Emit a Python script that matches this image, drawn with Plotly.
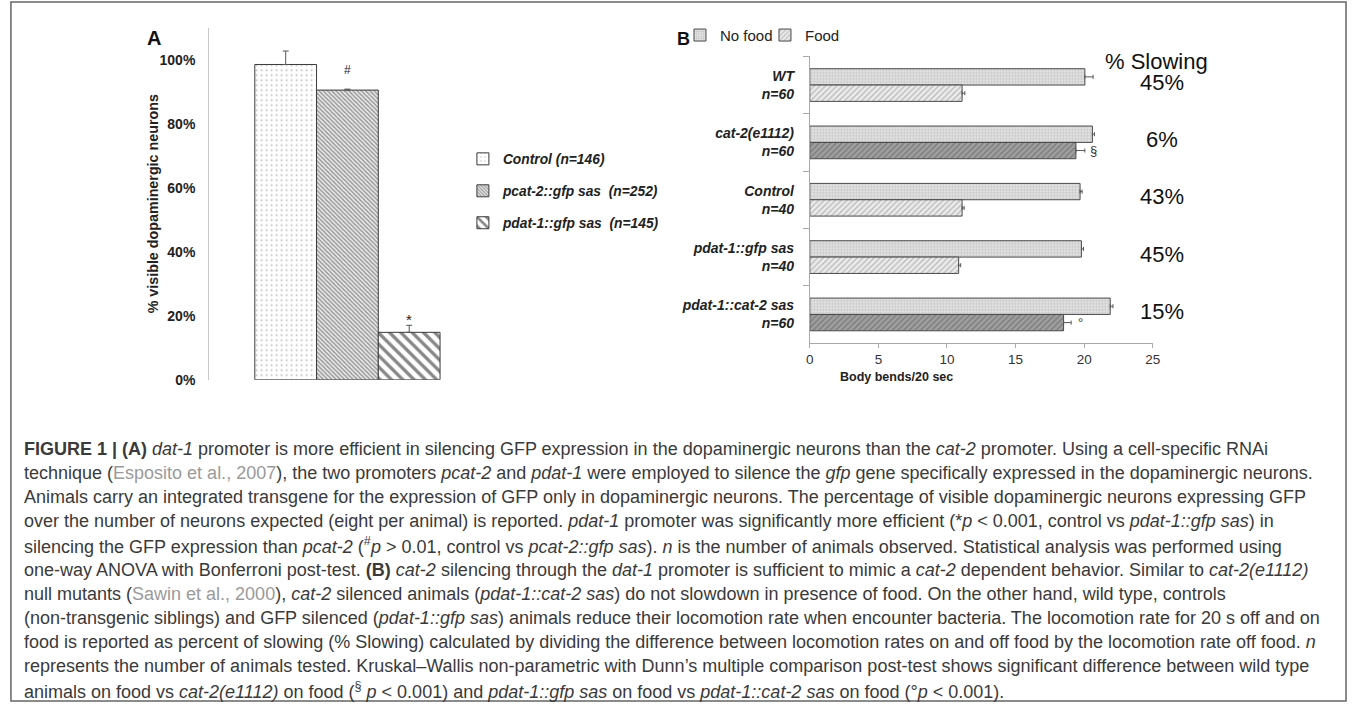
import plotly.graph_objects as go

W, H = 1357, 714


def px(x):
    return x / W


def py(y):
    return 1 - y / H


FONT = "Liberation Sans"

# ---------------- Panel A data ----------------
a_groups = ["Control (n=146)", "pcat-2::gfp sas  (n=252)", "pdat-1::gfp sas  (n=145)"]
a_values = [0.985, 0.905, 0.148]
a_errors = [0.042, 0.003, 0.022]
a_marks = ["", "#", "*"]
a_ticks = [0, 0.2, 0.4, 0.6, 0.8, 1.0]
a_title = "% visible dopaminergic neurons"

# ---------------- Panel B data ----------------
b_strains = ["WT<br>n=60", "cat-2(e1112)<br>n=60", "Control<br>n=40",
             "pdat-1::gfp sas<br>n=40", "pdat-1::cat-2 sas<br>n=60"]
b_series = ["No food", "Food"]
b_nofood = [20.05, 20.6, 19.7, 19.8, 21.9]
b_nofood_err = [0.6, 0.15, 0.15, 0.15, 0.2]
b_food = [11.1, 19.4, 11.1, 10.85, 18.5]
b_food_err = [0.2, 0.65, 0.15, 0.15, 0.55]
b_food_sig = ["", "§", "", "", "°"]
b_slowing = ["45%", "6%", "43%", "45%", "15%"]
b_xticks = [0, 5, 10, 15, 20, 25]
b_xtitle = "Body bends/20 sec"
b_slow_title = "% Slowing"

CITE = '<span style="color:#9a9a9a">{}</span>'
caption_lines = [
    "<b>FIGURE 1 | (A)</b> <i>dat-1</i> promoter is more efficient in silencing GFP expression in the dopaminergic neurons than the <i>cat-2</i> promoter. Using a cell-specific RNAi",
    "technique (" + CITE.format("Esposito et al., 2007") + "), the two promoters <i>pcat-2</i> and <i>pdat-1</i> were employed to silence the <i>gfp</i> gene specifically expressed in the dopaminergic neurons.",
    "Animals carry an integrated transgene for the expression of GFP only in dopaminergic neurons. The percentage of visible dopaminergic neurons expressing GFP",
    "over the number of neurons expected (eight per animal) is reported. <i>pdat-1</i> promoter was significantly more efficient (*<i>p</i> &lt; 0.001, control vs <i>pdat-1::gfp sas</i>) in",
    "silencing the GFP expression than <i>pcat-2</i> (<sup>#</sup><i>p</i> &gt; 0.01, control vs <i>pcat-2::gfp sas</i>). <i>n</i> is the number of animals observed. Statistical analysis was performed using",
    "one-way ANOVA with Bonferroni post-test. <b>(B)</b> <i>cat-2</i> silencing through the <i>dat-1</i> promoter is sufficient to mimic a <i>cat-2</i> dependent behavior. Similar to <i>cat-2(e1112)</i>",
    "null mutants (" + CITE.format("Sawin et al., 2000") + "), <i>cat-2</i> silenced animals (<i>pdat-1::cat-2 sas</i>) do not slowdown in presence of food. On the other hand, wild type, controls",
    "(non-transgenic siblings) and GFP silenced (<i>pdat-1::gfp sas</i>) animals reduce their locomotion rate when encounter bacteria. The locomotion rate for 20 s off and on",
    "food is reported as percent of slowing (% Slowing) calculated by dividing the difference between locomotion rates on and off food by the locomotion rate off food. <i>n</i>",
    "represents the number of animals tested. Kruskal\u2013Wallis non-parametric with Dunn\u2019s multiple comparison post-test shows significant difference between wild type",
    "animals on food vs <i>cat-2(e1112)</i> on food (<sup>§</sup> <i>p</i> &lt; 0.001) and <i>pdat-1::gfp sas</i> on food vs <i>pdat-1::cat-2 sas</i> on food (°<i>p</i> &lt; 0.001).",
]

fig = go.Figure()

# ---------------- Panel A bars ----------------
a_patterns = [
    dict(shape=".", fgcolor="#7a7a7a", bgcolor="white", size=5, solidity=0.12),
    dict(shape="\\", fgcolor="#444444", bgcolor="#eeeeee", size=3, solidity=0.5),
    dict(shape="\\", fgcolor="#111111", bgcolor="white", size=8, solidity=0.42),
]
a_mark_shift = [0, 19, 6]
bw = 62.3 / 279.0
a_offsets = [-1.5 * bw, -0.5 * bw, 0.5 * bw]
for i, g in enumerate(a_groups):
    fig.add_trace(go.Bar(
        x=[0], y=[a_values[i]], width=[bw], offset=[a_offsets[i]],
        name=g, xaxis="x", yaxis="y", legend="legend", legendgroup=f"a{i}",
        marker=dict(color="white", line=dict(color="#3c3c3c", width=1),
                    pattern=a_patterns[i]),
        error_y=dict(type="data", array=[a_errors[i]], arrayminus=[0],
                     symmetric=False, color="#555", thickness=1, width=3),
        hoverinfo="skip",
    ))

# ---------------- Panel B bars ----------------
food_fg = ["#555555" if s else "#8a8a8a" for s in b_food_sig]
food_bg = ["#a0a0a0" if s else "#ececec" for s in b_food_sig]
fig.add_trace(go.Bar(
    y=b_strains, x=b_nofood, orientation="h", name=b_series[0],
    xaxis="x2", yaxis="y2", legend="legend2",
    marker=dict(color="#d8d8d8", line=dict(color="#4a4a4a", width=1),
                pattern=dict(shape="+", fgcolor="#9a9a9a", bgcolor="#e2e2e2",
                             size=3, solidity=0.3)),
    error_x=dict(type="data", array=b_nofood_err, arrayminus=[0] * 5,
                 symmetric=False, color="#555", thickness=1, width=2),
    hoverinfo="skip",
))
fig.add_trace(go.Bar(
    y=b_strains, x=b_food, orientation="h", name=b_series[1],
    xaxis="x2", yaxis="y2", legend="legend2",
    marker=dict(color="#cfcfcf", line=dict(color="#4a4a4a", width=1),
                pattern=dict(shape="/", fgcolor=food_fg, bgcolor=food_bg,
                             size=4, solidity=0.35)),
    error_x=dict(type="data", array=b_food_err, arrayminus=[0] * 5,
                 symmetric=False, color="#555", thickness=1, width=2),
    hoverinfo="skip",
))

C = dict(xanchor="center", yanchor="middle", showarrow=False)
ann = []
# Panel labels
ann.append(dict(text="<b>A</b>", x=px(151), y=py(38), xref="paper", yref="paper",
                font=dict(size=20, color="#111"), **C))
ann.append(dict(text="<b>B</b>", x=px(686), y=py(39), xref="paper", yref="paper",
                font=dict(size=18, color="#111"), **C))
# Panel A y title
ann.append(dict(text="<b>" + a_title + "</b>", x=px(150), y=py(206), xref="paper", yref="paper",
                textangle=-90, font=dict(size=14.3, color="#222"), **C))
# significance marks A
for i, m in enumerate(a_marks):
    if m:
        ann.append(dict(text=m, x=a_offsets[i] + bw / 2, y=a_values[i] + a_errors[i],
                        xref="x", yref="y", yshift=a_mark_shift[i],
                        font=dict(size=15 if m == "*" else 12, color="#222"), **C))
# significance marks B
for i, m in enumerate(b_food_sig):
    if m:
        ann.append(dict(text=m, x=b_food[i] + b_food_err[i], y=i + 0.145,
                        xref="x2", yref="y2", xshift=9,
                        font=dict(size=13, color="#333"), **C))
# % Slowing
ann.append(dict(text=b_slow_title, x=px(1163), y=py(62), xref="paper", yref="paper",
                font=dict(size=22, color="#111"), **C))
for i, s in enumerate(b_slowing):
    ann.append(dict(text=s, x=px(1168), y=i, xref="paper", yref="y2", yshift=3,
                    font=dict(size=22, color="#111"), **C))
# x title B
ann.append(dict(text="<b>" + b_xtitle + "</b>", x=px(900), y=py(381), xref="paper", yref="paper",
                font=dict(size=12.5, color="#222"), **C))
# Caption
for k, line in enumerate(caption_lines):
    ann.append(dict(text=line, x=px(18), y=py(454 + k * 24.4), xref="paper", yref="paper",
                    xanchor="left", yanchor="middle", align="left", showarrow=False,
                    font=dict(size=18, color="#3a3a3a", family=FONT)))

shapes = [dict(type="rect", xref="paper", yref="paper", x0=px(7), x1=px(1354),
               y0=py(709), y1=py(2), line=dict(color="#666", width=1.5), fillcolor="rgba(0,0,0,0)",
               layer="below")]

fig.update_layout(
    width=W, height=H, margin=dict(l=0, r=0, t=0, b=0),
    paper_bgcolor="white", plot_bgcolor="rgba(0,0,0,0)",
    font=dict(family=FONT, color="#222"),
    barmode="group", bargap=0.43, bargroupgap=0,
    xaxis=dict(domain=[px(207), px(486)], range=[-0.5, 0.5], visible=False, anchor="y"),
    yaxis=dict(domain=[py(384), py(28)], range=[0, 1.1], tickvals=a_ticks, tickformat=".0%",
               showline=True, linecolor="#c8c8c8", linewidth=1, ticks="", showgrid=False,
               zeroline=False, tickfont=dict(size=14, weight="bold", color="#222"),
               ticklabelstandoff=10, anchor="x"),
    xaxis2=dict(domain=[px(813), px(1159)], range=[0, 25], tickvals=b_xticks, anchor="y2",
                showline=True, linecolor="#aaaaaa", ticks="outside", ticklen=4, tickcolor="#aaaaaa",
                showgrid=False, zeroline=False, tickfont=dict(size=13.5, color="#333")),
    yaxis2=dict(domain=[py(347), py(57)], type="category", categoryorder="array",
                categoryarray=b_strains, range=[4.5, -0.5], anchor="x2",
                showline=True, linecolor="#aaaaaa", ticks="outside", ticklen=6, tickcolor="#aaaaaa",
                tickson="boundaries", showgrid=False, zeroline=False, ticklabelstandoff=12,
                tickfont=dict(size=14, weight="bold", style="italic", color="#222")),
    legend=dict(x=px(463), y=py(145), xanchor="left", yanchor="top", bgcolor="rgba(0,0,0,0)",
                font=dict(size=13.8, weight="bold", style="italic", color="#222"),
                tracegroupgap=11, traceorder="grouped"),
    legend2=dict(x=px(682), y=py(19), xanchor="left", yanchor="top", orientation="h",
                 entrywidth=40, entrywidthmode="pixels",
                 bgcolor="rgba(0,0,0,0)", font=dict(size=15, color="#222")),
    annotations=ann,
    shapes=shapes,
)

fig.write_html("out.html", config={"displayModeBar": False},
               post_script="document.body.style.margin='0';document.body.style.overflow='hidden';")
